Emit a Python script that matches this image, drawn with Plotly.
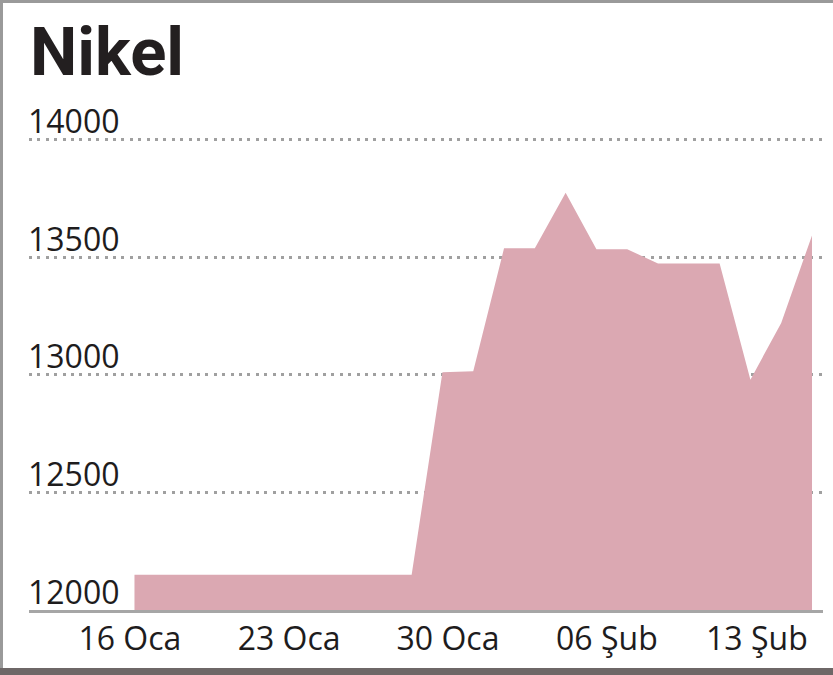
import plotly.graph_objects as go

# Data
point_index = list(range(23))
nickel_price = [12150, 12150, 12150, 12150, 12150, 12150, 12150, 12150, 12150, 12150,
                13010, 13015, 13537, 13537, 13773, 13533, 13533, 13473, 13473, 13473,
                12979, 13220, 13592]
x_tick_pos = [-0.15, 5.02, 10.18, 15.34, 20.21]
x_tick_text = ["16 Oca", "23 Oca", "30 Oca", "06 Şub", "13 Şub"]
y_tick_vals = [12000, 12500, 13000, 13500, 14000]
y_tick_text = ["12000", "12500", "13000", "13500", "14000"]

FONT = "Open Sans"
TXT = "#1e1c1d"

fig = go.Figure()
fig.add_trace(go.Scatter(
    x=point_index, y=nickel_price, mode="lines", fill="tozeroy",
    line=dict(width=0, color="#dba8b2"), fillcolor="#dba8b2",
    hoverinfo="skip", showlegend=False,
))

W, H = 833, 675
L, R, T, B = 29, 10, 130, 65
pw, ph = W - L - R, H - T - B

def px_x(p):
    return (p - L) / pw

def px_y(p):
    return (H - B - p) / ph

# y-axis labels sit above their gridlines, left-aligned
for v, t in zip(y_tick_vals, y_tick_text):
    fig.add_annotation(x=0, xref="paper", y=v, yref="y", text=t, showarrow=False,
                       xanchor="left", yanchor="middle", xshift=-3, yshift=19,
                       font=dict(family=FONT, size=32, color=TXT))

fig.update_layout(
    width=W, height=H,
    margin=dict(l=L, r=R, t=T, b=B, pad=0),
    paper_bgcolor="white", plot_bgcolor="white",
    title=dict(text="<b>Nikel</b>", font=dict(family="Roboto", size=67, color="#231f20"),
               xref="container", yref="container", x=30 / W, xanchor="left",
               y=1 - 52 / H, yanchor="middle"),
    xaxis=dict(range=[-3.425, 22.357], tickmode="array", tickvals=x_tick_pos, ticktext=x_tick_text,
               showgrid=False, zeroline=False, showline=True, linecolor="#a6a6a6", linewidth=3,
               ticks="", tickfont=dict(family=FONT, size=32, color=TXT), ticklabelstandoff=-1),
    yaxis=dict(range=[12000, 14040], tickmode="array", tickvals=y_tick_vals,
               showgrid=True, gridcolor="#a0a0a0", gridwidth=3, griddash="3px,5.4px",
               zeroline=False, showline=False, ticks="", showticklabels=False),
    shapes=[
        dict(type="rect", xref="paper", yref="paper", x0=px_x(0), x1=px_x(3), y0=px_y(669), y1=px_y(0),
             fillcolor="#9a9a9a", line=dict(width=0)),
        dict(type="rect", xref="paper", yref="paper", x0=px_x(0), x1=px_x(W), y0=px_y(3), y1=px_y(0),
             fillcolor="#9a9a9a", line=dict(width=0)),
        dict(type="rect", xref="paper", yref="paper", x0=px_x(0), x1=px_x(W), y0=px_y(675), y1=px_y(668),
             fillcolor="#6e6767", line=dict(width=0)),
    ],
)

fig.write_html("out.html", config={"displayModeBar": False},
               post_script="document.body.style.margin='0';")
